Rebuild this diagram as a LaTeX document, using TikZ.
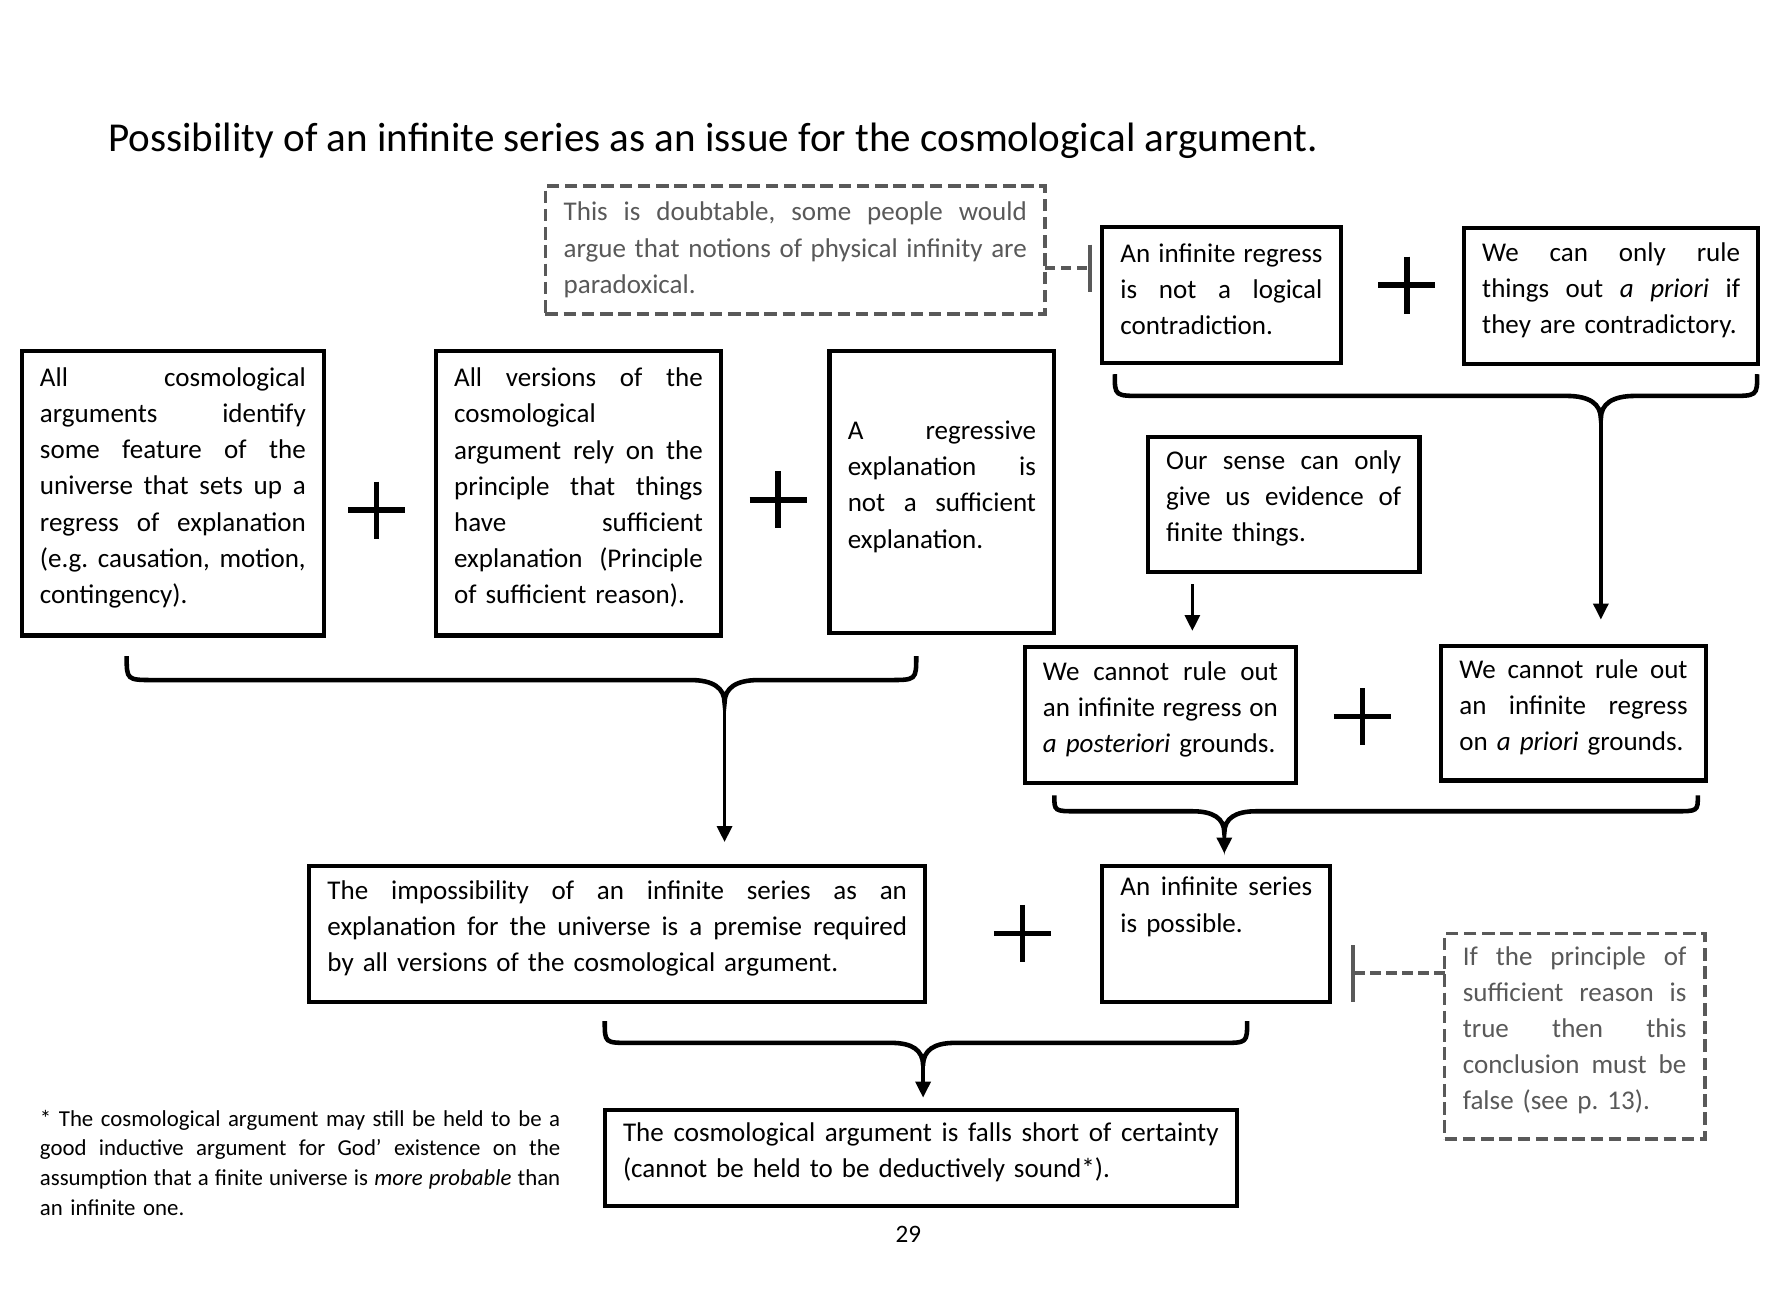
\documentclass[tikz,border=0pt]{standalone}
\usepackage{fontspec}
\setmainfont{Carlito}
\usetikzlibrary{arrows.meta,calc}
\definecolor{dgray}{RGB}{89,89,89}
\frenchspacing
\newcommand{\jl}[1]{\leavevmode\hbox to \hsize{\spaceskip=\fontdimen2\font plus 1fil minus \fontdimen4\font\relax #1}}
\newcommand{\raisepad}{\par\kern5pt}
\begin{document}
\begin{tikzpicture}[x=0.5pt,y=-0.5pt,
  every node/.style={inner sep=0pt, outer sep=0pt},
  bodyfont/.style={font=\fontsize{11.85pt}{15.85pt}\selectfont},
  raise/.style={execute at end node=\raisepad},
  bx/.style={draw, line width=1.8pt, align=left, bodyfont, raise},
  dbx/.style={draw=dgray, text=dgray, line width=1.6pt, dash pattern=on 5.5pt off 2.5pt, align=left, bodyfont},
  arr/.style={line width=1.6pt, -{Triangle[width=6.5pt,length=7pt]}},
  brc/.style={line width=2pt},
  plussign/.style={line width=2.5pt},
  dconn/.style={draw=dgray, line width=1.6pt, dash pattern=on 4.5pt off 2.5pt}
]
\fill[white] (0,0) rectangle (1560,1137.6);
\useasboundingbox (0,0) rectangle (1560,1137.6);

% title
\node[anchor=base west, font=\fontsize{18pt}{22pt}\selectfont] (title) at (95,133)
  {Possibility of an infinite series as an issue for the cosmological argument.};

% top dashed note
\node[dbx, minimum width=219pt, minimum height=56pt, text width=203pt] (dash1) at (697,219)
  {\jl{This is doubtable, some people would}\\
   \jl{argue that notions of physical infinity are}\\
   \mbox{paradoxical.}};

% top right boxes
\node[bx, minimum width=104.5pt, minimum height=59.5pt, text width=88.5pt] (boxA) at (1070.5,258.5)
  {\jl{An infinite regress}\\ \jl{is not a logical}\\ \mbox{contradiction.}};
\node[bx, minimum width=129pt, minimum height=59.5pt, text width=113pt] (boxB) at (1412,259.5)
  {\jl{We can only rule}\\ \jl{things out \emph{a priori} if}\\ \mbox{they are contradictory.}};

% left row
\node[bx, minimum width=132.5pt, minimum height=124.5pt, text width=116.5pt] (box1) at (151.5,432.5)
  {\jl{All cosmological}\\ \jl{arguments identify}\\ \jl{some feature of the}\\
   \jl{universe that sets up a}\\ \jl{regress of explanation}\\ \jl{(e.g. causation, motion,}\\
   \mbox{contingency).}};
\node[bx, minimum width=125pt, minimum height=124.5pt, text width=109pt] (box2) at (507,432.5)
  {\jl{All versions of the}\\ cosmological\\ \jl{argument rely on the}\\
   \jl{principle that things}\\ \jl{have sufficient}\\ \jl{explanation (Principle}\\
   \mbox{of sufficient reason).}};
\node[bx, minimum width=98.5pt, minimum height=123.5pt, text width=82.5pt] (box3) at (825.5,431.5)
  {\jl{A regressive}\\ \jl{explanation is}\\ \jl{not a sufficient}\\ \mbox{explanation.}};

% right middle
\node[bx, minimum width=119pt, minimum height=59pt, text width=103pt] (sense) at (1125,442)
  {\jl{Our sense can only}\\ \jl{give us evidence of}\\ \mbox{finite things.}};
\node[bx, minimum width=119pt, minimum height=59.5pt, text width=103pt] (post) at (1017,626.5)
  {\jl{We cannot rule out}\\ \jl{an infinite regress on}\\ \mbox{\emph{a posteriori} grounds.}};
\node[bx, minimum width=116pt, minimum height=59pt, text width=100pt] (priori) at (1379,625)
  {\jl{We cannot rule out}\\ \jl{an infinite regress}\\ \mbox{on \emph{a priori} grounds.}};

% lower row
\node[bx, minimum width=270pt, minimum height=59.5pt, text width=254pt] (imposs) at (541,818.5)
  {\jl{The impossibility of an infinite series as an}\\
   \jl{explanation for the universe is a premise required}\\
   \mbox{by all versions of the cosmological argument.}};
\node[bx, minimum width=100pt, minimum height=59.5pt, text width=84pt] (possible) at (1066,818.5)
  {\jl{An infinite series}\\ \mbox{is possible.}\\ \strut};

\node[dbx, raise, minimum width=114pt, minimum height=90pt, text width=98pt] (dash2) at (1380,908)
  {\jl{If the principle of}\\ \jl{sufficient reason is}\\ \jl{true then this}\\
   \jl{conclusion must be}\\ \mbox{false (see p. 13).}};

\node[bx, minimum width=277pt, minimum height=42pt, text width=261pt] (final) at (807,1015)
  {\jl{The cosmological argument is falls short of certainty}\\
   \mbox{(cannot be held to be deductively sound*).}};

% footnote
\node[align=left, text width=228pt, font=\fontsize{10pt}{13pt}\selectfont] (foot) at (263,1019)
  {\jl{* The cosmological argument may still be held to be a}\\
   \jl{good inductive argument for God’ existence on the}\\
   \jl{assumption that a finite universe is \emph{more probable} than}\\
   an infinite one.};

\node[font=\fontsize{11pt}{13pt}\selectfont] (pagenum) at (796,1082) {29};

% plus signs
\draw[plussign] (305,447) -- (355,447) (330,422) -- (330,472);
\draw[plussign] (657,438) -- (707,438) (682,413) -- (682,463);
\draw[plussign] (1208,250) -- (1258,250) (1233,225) -- (1233,275);
\draw[plussign] (1169,628) -- (1219,628) (1194,603) -- (1194,653);
\draw[plussign] (871,818) -- (921,818) (896,793) -- (896,843);

% braces
\draw[brc] (111,575) .. controls (111,596) .. (135,596) -- (605,596)
  .. controls (625,596) and (635,603) .. (635,616)
  .. controls (635,603) and (645,596) .. (665,596) -- (779,596)
  .. controls (803,596) .. (803,575);
\coordinate (t1) at (635,616);

\draw[brc] (977,328) .. controls (977,347) .. (1001,347) -- (1373,347)
  .. controls (1393,347) and (1403,354) .. (1403,367)
  .. controls (1403,354) and (1413,347) .. (1433,347) -- (1516,347)
  .. controls (1540,347) .. (1540,328);
\coordinate (t2) at (1403,367);

\draw[brc] (924,697) .. controls (924,711) .. (944,711) -- (1045,711)
  .. controls (1063,711) and (1073,717) .. (1073,730)
  .. controls (1073,717) and (1083,711) .. (1101,711) -- (1468,711)
  .. controls (1488,711) .. (1488,697);
\coordinate (t3) at (1073,730);

\draw[brc] (530,895) .. controls (530,914) .. (552,914) -- (781,914)
  .. controls (799,914) and (809,920) .. (809,934)
  .. controls (809,920) and (819,914) .. (837,914) -- (1071,914)
  .. controls (1093,914) .. (1093,895);
\coordinate (t4) at (809,934);

% arrows
\draw[arr, shorten >=10.5pt] (t1) -- (t1 |- imposs.north);
\draw[arr, shorten >=11.5pt] (t2) -- (t2 |- priori.north);
\draw[arr, shorten >=5.5pt] (t3) -- (t3 |- possible.north);
\draw[arr, shorten >=5.5pt] (t4) -- (t4 |- final.north);
\coordinate (s1) at ($(sense.south west)+(39,0)$);
\draw[arr, shorten <=5.5pt, shorten >=7pt] (s1) -- (s1 |- post.north);

% dashed objection connectors
\coordinate (d1) at ($(dash1.east)+(0,16)$);
\draw[dconn, shorten >=4.5pt, -{Bar[width=20.5pt]}] (d1) -- (d1 -| boxA.west);
\coordinate (d2) at ($(dash2.west)+(0,-55)$);
\draw[dconn, shorten >=9pt, -{Bar[width=25pt]}] (d2) -- (d2 -| possible.east);
\end{tikzpicture}
\end{document}
